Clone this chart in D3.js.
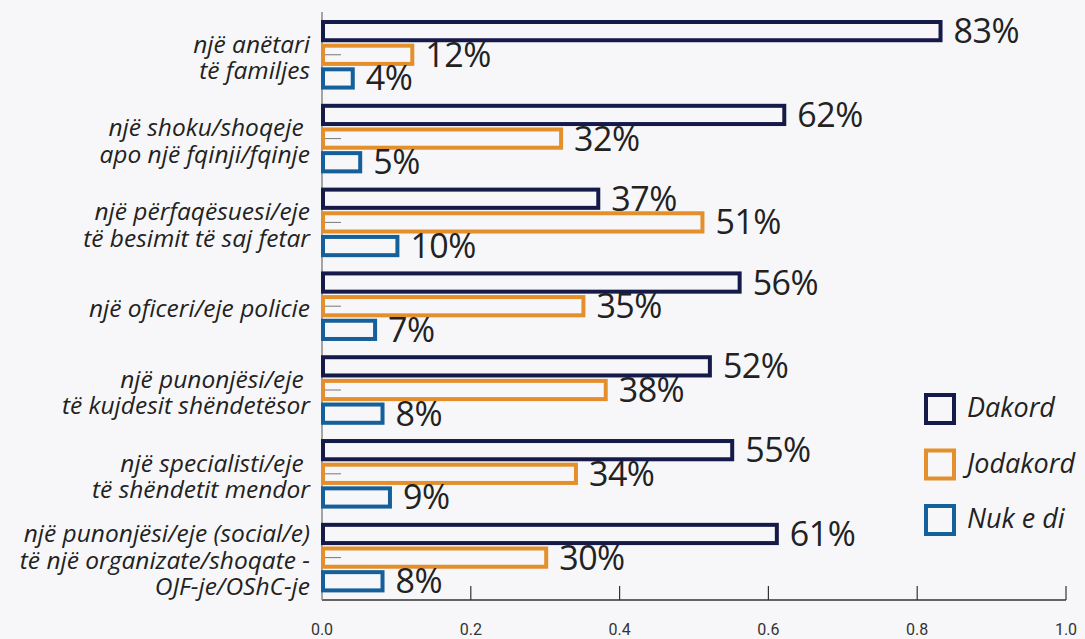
<!DOCTYPE html>
<html>
<head>
<meta charset="utf-8">
<script src="https://cdn.jsdelivr.net/npm/d3@7"></script>
<style>
  html, body { margin: 0; padding: 0; background: #f7f7f9; }
  svg { display: block; }
  .cat { font-family: "Open Sans", sans-serif; font-style: italic; font-size: 24.5px; fill: #222; white-space: pre; }
  .val { font-family: "Open Sans", sans-serif; font-weight: 400; font-size: 34px; fill: #222; letter-spacing: -0.5px; }
  .tick-lbl { font-family: "Roboto", sans-serif; font-size: 16px; fill: #333; }
  .legend { font-family: "Open Sans", sans-serif; font-style: italic; font-size: 27px; fill: #222; }
</style>
</head>
<body>
<svg id="chart" width="1085" height="639"></svg>
<script>
const categories = [
  ['një anëtari', 'të familjes'],
  ['një shoku/shoqeje ', 'apo një fqinji/fqinje'],
  ['një përfaqësuesi/eje', 'të besimit të saj fetar'],
  ['një oficeri/eje policie'],
  ['një punonjësi/eje ', 'të kujdesit shëndetësor'],
  ['një specialisti/eje ', 'të shëndetit mendor'],
  ['një punonjësi/eje (social/e)', 'të një organizate/shoqate -', 'OJF-je/OShC-je']
];
const series = ['Dakord', 'Jodakord', 'Nuk e di'];
const dakord = [0.83, 0.62, 0.37, 0.56, 0.52, 0.55, 0.61];
const jodakord = [0.12, 0.32, 0.51, 0.35, 0.38, 0.34, 0.30];
const nukEDi = [0.04, 0.05, 0.10, 0.07, 0.08, 0.09, 0.08];
const xTicks = [0, 0.2, 0.4, 0.6, 0.8, 1.0];
const colors = ['#161a48', '#e38f2b', '#155f9b'];

const svg = d3.select('#chart');
const margin = { left: 322, right: 19, top: 20, bottom: 47 };
const W = 1085, H = 639;

const keys = categories.map((c, i) => 'c' + i);
const rows = keys.map((k, i) => ({
  key: k,
  lines: categories[i],
  vals: [dakord[i], jodakord[i], nukEDi[i]]
}));

const x = d3.scaleLinear().domain([0, 1]).range([margin.left, W - margin.right]);
const y = d3.scaleBand().domain(keys).range([20, 592.4]).paddingInner(0.17).paddingOuter(0);
const ySub = d3.scaleBand().domain(series).range([0, y.bandwidth()]).paddingInner(0.06);

const axisY = H - 39;

// x axis
const gx = svg.append('g').attr('transform', `translate(0,${axisY})`);
gx.append('line')
  .attr('x1', x(0)).attr('x2', x(1))
  .attr('stroke', '#333').attr('stroke-width', 1.5);
gx.selectAll('.tk').data(xTicks.slice(1)).join('line')
  .attr('x1', d => x(d)).attr('x2', d => x(d))
  .attr('y1', 0).attr('y2', -14)
  .attr('stroke', '#333').attr('stroke-width', 1.2);
gx.selectAll('.tick-lbl').data(xTicks).join('text')
  .attr('class', 'tick-lbl')
  .attr('x', d => x(d)).attr('y', 31)
  .attr('text-anchor', 'middle')
  .attr('dominant-baseline', 'middle')
  .text(d => d3.format('.1f')(d));

// y axis
svg.append('line')
  .attr('x1', x(0)).attr('x2', x(0))
  .attr('y1', 12).attr('y2', axisY)
  .attr('stroke', '#888').attr('stroke-width', 1.5);

const groups = svg.selectAll('.grp').data(rows).join('g')
  .attr('class', 'grp')
  .attr('transform', d => `translate(0,${y(d.key)})`);

groups.selectAll('rect').data(d => d.vals.map((v, j) => ({ v, s: series[j], j }))).join('rect')
  .attr('x', x(0) + 1)
  .attr('y', d => ySub(d.s) + 2)
  .attr('width', d => x(d.v) - x(0))
  .attr('height', ySub.bandwidth() - 4)
  .attr('fill', '#f7f7f9')
  .attr('stroke', d => colors[d.j])
  .attr('stroke-width', 4);

// inward y ticks
groups.append('line')
  .attr('x1', x(0) + 3).attr('x2', x(0) + 19)
  .attr('y1', y.bandwidth() / 2).attr('y2', y.bandwidth() / 2)
  .attr('stroke', '#777').attr('stroke-width', 1);

groups.selectAll('.val').data(d => d.vals.map((v, j) => ({ v, s: series[j], j }))).join('text')
  .attr('class', 'val')
  .attr('x', d => x(d.v) + 14)
  .attr('y', d => ySub(d.s) + ySub.bandwidth() / 2 + 12)
  .text(d => d3.format('.0%')(d.v));

// category labels
const lineH = 26.5;
groups.each(function (d) {
  const g = d3.select(this);
  const n = d.lines.length;
  const c = y.bandwidth() / 2 + 11;
  d.lines.forEach((t, k) => {
    g.append('text')
      .attr('class', 'cat')
      .attr('x', 310)
      .attr('y', c + (k - (n - 1) / 2) * lineH)
      .attr('text-anchor', 'end')
      .text(t);
  });
});

// legend
const lg = svg.append('g').attr('transform', 'translate(926,395)');
series.forEach((s, i) => {
  const row = lg.append('g').attr('transform', `translate(0,${i * 55.5})`);
  row.append('rect')
    .attr('x', 0).attr('y', 0).attr('width', 28).attr('height', 28)
    .attr('fill', '#f7f7f9').attr('stroke', colors[i]).attr('stroke-width', 4);
  row.append('text')
    .attr('class', 'legend')
    .attr('x', 41).attr('y', 15)
    .attr('dominant-baseline', 'middle')
    .text(s);
});
</script>
</body>
</html>
